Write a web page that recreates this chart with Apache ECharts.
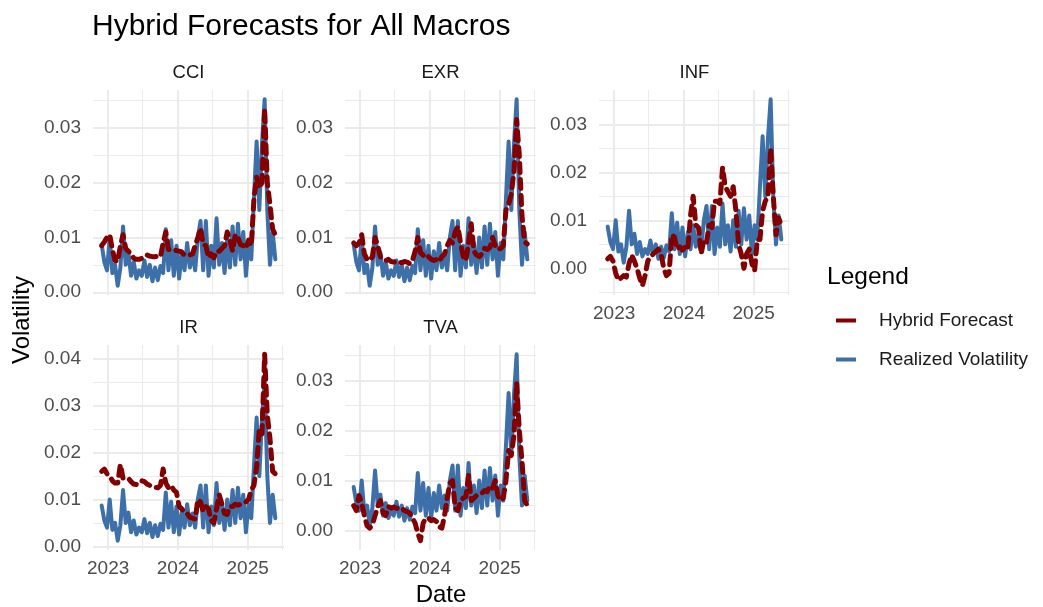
<!DOCTYPE html>
<html>
<head>
<meta charset="utf-8">
<title>Hybrid Forecasts for All Macros</title>
<script src="https://cdn.jsdelivr.net/npm/echarts@6/dist/echarts.min.js"></script>
<style>
  html, body { margin: 0; padding: 0; background: #fff; }
  #chart { width: 1043px; height: 607px; }
</style>
</head>
<body>
<div id="chart"></div>
<script>
// observations every two weeks, first one on 2022-11-28
var firstDate = Date.UTC(2022, 10, 28);
var stepDays = 14;

var macros = ['CCI', 'EXR', 'INF', 'IR', 'TVA'];

// realized volatility is the same target in every panel
var realized = [
  0.0087, 0.0055, 0.0040, 0.0100, 0.0035, 0.0050, 0.0012, 0.0045, 0.0120, 0.0050,
  0.0072, 0.0030, 0.0055, 0.0025, 0.0040, 0.0030, 0.0058, 0.0028, 0.0050, 0.0020,
  0.0045, 0.0022, 0.0048, 0.0035, 0.0115, 0.0040, 0.0095, 0.0030, 0.0085, 0.0025,
  0.0075, 0.0040, 0.0090, 0.0045, 0.0070, 0.0040, 0.0100, 0.0130, 0.0040, 0.0130,
  0.0030, 0.0085, 0.0045, 0.0135, 0.0050, 0.0090, 0.0035, 0.0100, 0.0045, 0.0120,
  0.0050, 0.0125, 0.0060, 0.0110, 0.0030, 0.0090, 0.0060, 0.0170, 0.0275, 0.0150,
  0.0270, 0.0352, 0.0150, 0.0050, 0.0110, 0.0060
];

var hybridCCI = [
  0.0085, 0.0092, 0.0100, 0.0105, 0.0078, 0.0058, 0.0056, 0.0085, 0.0105, 0.0080,
  0.0075, 0.0070, 0.0062, 0.0060, 0.0060, 0.0062, 0.0066, 0.0068, 0.0066, 0.0065,
  0.0065, 0.0066, 0.0065, 0.0090, 0.0110, 0.0078, 0.0078, 0.0078, 0.0076, 0.0075,
  0.0073, 0.0068, 0.0068, 0.0068, 0.0070, 0.0085, 0.0100, 0.0117, 0.0087, 0.0085,
  0.0063, 0.0070, 0.0063, 0.0075, 0.0075, 0.0080, 0.0085, 0.0110, 0.0095, 0.0075,
  0.0105, 0.0100, 0.0087, 0.0085, 0.0080, 0.0095, 0.0085, 0.0170, 0.0210, 0.0190,
  0.0200, 0.0335, 0.0200, 0.0160, 0.0115, 0.0105
];

var hybridEXR = [
  0.0090, 0.0085, 0.0090, 0.0105, 0.0070, 0.0060, 0.0058, 0.0065, 0.0100, 0.0085,
  0.0065, 0.0060, 0.0058, 0.0060, 0.0056, 0.0055, 0.0057, 0.0055, 0.0054, 0.0056,
  0.0055, 0.0052, 0.0058, 0.0075, 0.0100, 0.0072, 0.0068, 0.0062, 0.0065, 0.0060,
  0.0058, 0.0060, 0.0056, 0.0065, 0.0070, 0.0085, 0.0095, 0.0090, 0.0110, 0.0120,
  0.0090, 0.0065, 0.0058, 0.0090, 0.0125, 0.0075, 0.0068, 0.0065, 0.0070, 0.0080,
  0.0078, 0.0082, 0.0100, 0.0085, 0.0078, 0.0080, 0.0085, 0.0150, 0.0160, 0.0180,
  0.0220, 0.0315, 0.0250, 0.0140, 0.0092, 0.0088
];

var hybridINF = [
  0.0020, 0.0025, 0.0015, -0.0010, -0.0025, -0.0020, -0.0015, -0.0018, 0.0010, 0.0028,
  0.0015, 0.0000, -0.0020, -0.0036, -0.0015, 0.0015, 0.0025, 0.0030, 0.0035, 0.0040,
  0.0030, 0.0000, -0.0015, -0.0010, 0.0070, 0.0065, 0.0040, 0.0045, 0.0038, 0.0045,
  0.0040, 0.0110, 0.0150, 0.0090, 0.0085, 0.0030, 0.0060, 0.0055, 0.0090, 0.0085,
  0.0140, 0.0140, 0.0135, 0.0210, 0.0170, 0.0160, 0.0150, 0.0170, 0.0120, 0.0050,
  0.0030, 0.0000, 0.0030, 0.0040, 0.0010, -0.0005, 0.0060, 0.0060, 0.0120, 0.0140,
  0.0150, 0.0250, 0.0150, 0.0070, 0.0105, 0.0090
];

var hybridIR = [
  0.0160, 0.0165, 0.0155, 0.0150, 0.0140, 0.0135, 0.0135, 0.0175, 0.0145, 0.0145,
  0.0145, 0.0138, 0.0133, 0.0132, 0.0135, 0.0140, 0.0138, 0.0133, 0.0130, 0.0128,
  0.0126, 0.0125, 0.0130, 0.0165, 0.0135, 0.0125, 0.0130, 0.0120, 0.0115, 0.0085,
  0.0080, 0.0072, 0.0070, 0.0062, 0.0060, 0.0058, 0.0100, 0.0095, 0.0075, 0.0085,
  0.0080, 0.0055, 0.0050, 0.0080, 0.0110, 0.0090, 0.0070, 0.0068, 0.0085, 0.0085,
  0.0090, 0.0088, 0.0090, 0.0092, 0.0095, 0.0100, 0.0120, 0.0130, 0.0170, 0.0250,
  0.0240, 0.0410, 0.0280, 0.0230, 0.0160, 0.0155
];

var hybridTVA = [
  0.0050, 0.0040, 0.0070, 0.0055, 0.0030, 0.0010, 0.0005, 0.0012, 0.0030, 0.0048,
  0.0060, 0.0035, 0.0030, 0.0048, 0.0045, 0.0047, 0.0045, 0.0043, 0.0045, 0.0040,
  0.0038, 0.0035, 0.0025, 0.0015, -0.0005, -0.0020, 0.0015, 0.0025, 0.0025, 0.0020,
  0.0022, 0.0018, 0.0008, 0.0005, 0.0030, 0.0065, 0.0095, 0.0100, 0.0045, 0.0040,
  0.0060, 0.0065, 0.0068, 0.0110, 0.0060, 0.0065, 0.0070, 0.0072, 0.0075, 0.0080,
  0.0078, 0.0090, 0.0085, 0.0100, 0.0070, 0.0060, 0.0065, 0.0100, 0.0160, 0.0150,
  0.0190, 0.0295, 0.0200, 0.0140, 0.0060, 0.0050
];

var hybrid = [hybridCCI, hybridEXR, hybridINF, hybridIR, hybridTVA];

var yearTicks = [Date.UTC(2023, 0, 1), Date.UTC(2024, 0, 1), Date.UTC(2025, 0, 1)];
var halfYearTicks = [Date.UTC(2023, 6, 1), Date.UTC(2024, 6, 1), Date.UTC(2025, 6, 1)];

var FONT = '"Liberation Sans", Arial, Helvetica, sans-serif';
var BLUE = '#3D70A8';
var RED = '#840000';
var GRID_COLOR = '#EBEBEB';

// facet positions (px)
var panelW = 191, panelH = 205;
var panels = [
  { left: 93, top: 90, xLabels: false },
  { left: 345, top: 90, xLabels: false },
  { left: 599, top: 90, xLabels: true },
  { left: 93, top: 345, xLabels: true },
  { left: 345, top: 345, xLabels: true }
];

var dates = realized.map(function (v, i) { return firstDate + i * stepDays * 86400000; });
var xSpan = dates[dates.length - 1] - dates[0];
var xMin = dates[0] - 0.05 * xSpan;
var xMax = dates[dates.length - 1] + 0.05 * xSpan;

function stepsIn(lo, hi, step, offset) {
  var out = [];
  var k = Math.ceil((lo - offset) / step - 1e-9);
  for (; offset + k * step <= hi + 1e-12; k++) {
    out.push(Math.round((offset + k * step) * 10000) / 10000);
  }
  return out;
}

var grids = [], xAxes = [], yAxes = [], series = [], graphics = [];

panels.forEach(function (p, i) {
  var all = realized.concat(hybrid[i]);
  var lo = Math.min.apply(null, all), hi = Math.max.apply(null, all);
  var pad = (hi - lo) * 0.05;
  var yMin = lo - pad, yMax = hi + pad;

  grids.push({ left: p.left, top: p.top, width: panelW, height: panelH });

  // major x: years (dates kept as UTC ms on a value axis)
  xAxes.push({
    type: 'value', gridIndex: i, min: xMin, max: xMax,
    axisLine: { show: false },
    axisTick: { show: false, customValues: yearTicks },
    axisLabel: {
      show: p.xLabels, customValues: yearTicks, margin: 9,
      fontSize: 19, color: '#4D4D4D', fontFamily: FONT,
      formatter: function (v) { return String(new Date(v).getUTCFullYear()); }
    },
    splitLine: { show: true, lineStyle: { color: GRID_COLOR, width: 2 } }
  });
  // minor x: mid years
  xAxes.push({
    type: 'value', gridIndex: i, min: xMin, max: xMax,
    axisLine: { show: false },
    axisTick: { show: false, customValues: halfYearTicks },
    axisLabel: { show: false, customValues: halfYearTicks },
    splitLine: { show: true, lineStyle: { color: GRID_COLOR, width: 1 } }
  });

  var major = stepsIn(yMin, yMax, 0.01, 0);
  var minor = stepsIn(yMin, yMax, 0.01, 0.005);
  yAxes.push({
    type: 'value', gridIndex: i, min: yMin, max: yMax,
    axisLine: { show: false },
    axisTick: { show: false, customValues: major },
    axisLabel: {
      customValues: major, margin: 12,
      fontSize: 19, color: '#4D4D4D', fontFamily: FONT,
      formatter: function (v) { return v.toFixed(2); }
    },
    splitLine: { show: true, lineStyle: { color: GRID_COLOR, width: 2 } }
  });
  yAxes.push({
    type: 'value', gridIndex: i, min: yMin, max: yMax,
    axisLine: { show: false },
    axisTick: { show: false, customValues: minor },
    axisLabel: { show: false, customValues: minor },
    splitLine: { show: true, lineStyle: { color: GRID_COLOR, width: 1 } }
  });

  series.push({
    type: 'line', name: 'Realized Volatility',
    xAxisIndex: 2 * i, yAxisIndex: 2 * i,
    data: dates.map(function (d, j) { return [d, realized[j]]; }),
    showSymbol: false, color: BLUE, silent: true,
    lineStyle: { color: BLUE, width: 4, join: 'round', cap: 'round' }
  });
  series.push({
    type: 'line', name: 'Hybrid Forecast',
    xAxisIndex: 2 * i, yAxisIndex: 2 * i,
    data: dates.map(function (d, j) { return [d, hybrid[i][j]]; }),
    showSymbol: false, color: RED, silent: true,
    lineStyle: { color: RED, width: 5, type: [9, 7], join: 'round', cap: 'round' }
  });

  // facet strip label
  graphics.push({
    type: 'text', x: p.left + panelW / 2, y: p.top - 17,
    style: { text: macros[i], fontSize: 18.5, fill: '#1A1A1A', fontFamily: FONT,
             align: 'center', verticalAlign: 'middle' }
  });
});

graphics.push({
  type: 'text', x: 22, y: 320, rotation: Math.PI / 2,
  style: { text: 'Volatility', fontSize: 24, fill: '#000', fontFamily: FONT,
           align: 'center', verticalAlign: 'middle' }
});
graphics.push({
  type: 'text', x: 441, y: 595,
  style: { text: 'Date', fontSize: 24, fill: '#000', fontFamily: FONT,
           align: 'center', verticalAlign: 'middle' }
});
graphics.push({
  type: 'text', x: 827, y: 277,
  style: { text: 'Legend', fontSize: 24.5, fill: '#000', fontFamily: FONT,
           align: 'left', verticalAlign: 'middle' }
});

var chart = echarts.init(document.getElementById('chart'), null, { renderer: 'canvas' });
chart.setOption({
  animation: false,
  backgroundColor: '#fff',
  title: {
    text: 'Hybrid Forecasts for All Macros', left: 92, top: 12, padding: 0,
    textStyle: { fontSize: 30, fontWeight: 'normal', color: '#000', fontFamily: FONT }
  },
  legend: {
    data: ['Hybrid Forecast', 'Realized Volatility'],
    orient: 'vertical', left: 831, top: 306,
    icon: 'rect', itemWidth: 20, itemHeight: 4, itemGap: 20,
    selectedMode: false,
    textStyle: { fontSize: 19, color: '#1A1A1A', fontFamily: FONT, padding: [0, 0, 0, 18] }
  },
  grid: grids,
  xAxis: xAxes,
  yAxis: yAxes,
  series: series,
  graphic: graphics
});
</script>
</body>
</html>
